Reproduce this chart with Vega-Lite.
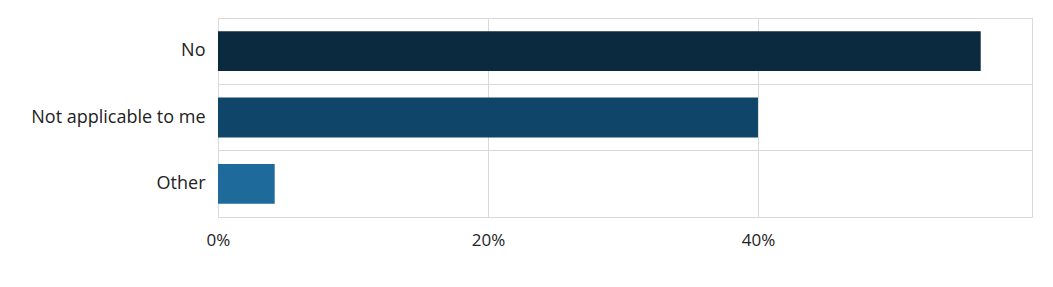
{
  "$schema": "https://vega.github.io/schema/vega-lite/v6.json",
  "autosize": "none",
  "padding": {"left": 218, "top": 18, "right": 21, "bottom": 70},
  "width": 814,
  "height": 199,
  "background": "white",
  "data": {"values": [
    {"answer": "No", "share": 0.565},
    {"answer": "Not applicable to me", "share": 0.400},
    {"answer": "Other", "share": 0.042}
  ]},
  "mark": {"type": "bar", "height": {"band": 0.6}},
  "encoding": {
    "y": {
      "field": "answer", "type": "nominal", "sort": null,
      "scale": {"paddingInner": 0, "paddingOuter": 0},
      "axis": {"title": null, "ticks": false, "domain": false, "grid": true, "bandPosition": 0,
        "gridColor": "#d9d9d9", "labelFont": "Open Sans", "labelFontSize": 18, "labelColor": "#222222", "labelPadding": 13}
    },
    "x": {
      "field": "share", "type": "quantitative",
      "scale": {"domain": [0, 0.603], "nice": false},
      "axis": {"title": null, "values": [0, 0.2, 0.4], "format": ".0%", "ticks": false, "domain": false, "labelFlush": false,
        "gridColor": "#d9d9d9", "labelFont": "Open Sans", "labelFontSize": 17, "labelColor": "#222222", "labelPadding": 15}
    },
    "color": {
      "field": "answer", "type": "nominal", "legend": null,
      "scale": {"domain": ["No", "Not applicable to me", "Other"], "range": ["#0b2a40", "#0e4568", "#1d6a9b"]}
    }
  },
  "config": {"view": {"stroke": "#d9d9d9"}}
}
